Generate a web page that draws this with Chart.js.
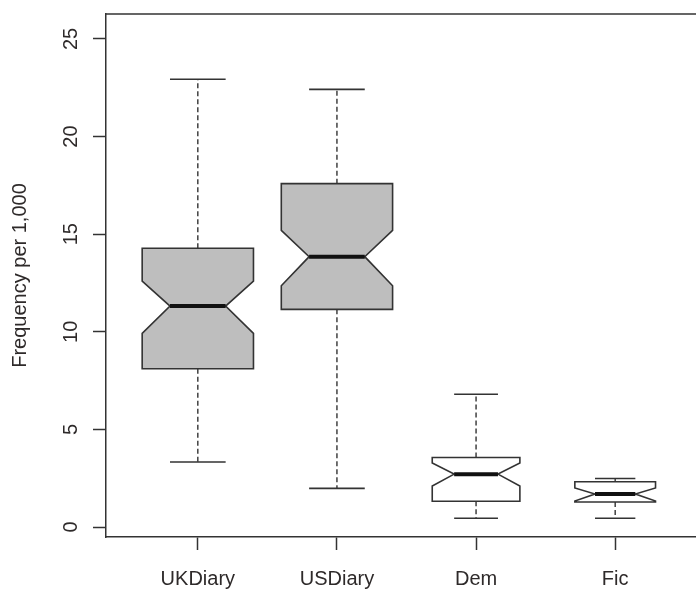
<!DOCTYPE html>
<html>
<head>
<meta charset="utf-8">
<script src="https://cdn.jsdelivr.net/npm/chart.js@4"></script>
<style>
  html, body { margin: 0; padding: 0; background: #fff; overflow: hidden; }
  canvas { display: block; }
</style>
</head>
<body>
<canvas id="canvas" width="720" height="589"></canvas>
<script>
// values
const categories = ["UKDiary", "USDiary", "Dem", "Fic"];
const upperWhisker = [22.94, 22.42, 6.80, 2.49];
const upperHinge = [14.28, 17.59, 3.56, 2.32];
const notchHigh = [12.60, 15.20, 3.28, 2.00];
const medians = [11.32, 13.85, 2.71, 1.69];
const notchLow = [9.92, 12.36, 2.10, 1.33];
const lowerHinge = [8.11, 11.15, 1.32, 1.28];
const lowerWhisker = [3.33, 1.98, 0.45, 0.45];
const boxWidths = [0.80, 0.80, 0.63, 0.58];
const yTicks = [0, 5, 10, 15, 20, 25];

const boxFills = ["#bebebe", "#bebebe", "#ffffff", "#ffffff"];
const ink = "#333333";
const textColor = "#2e2a2a";
const font = { family: "'Liberation Sans', Arial, sans-serif", size: 20 };

// draws notched boxes, whiskers and medians using the chart's scales
const notchedBoxes = {
  id: "notchedBoxes",
  afterDatasetsDraw(chart) {
    const { ctx, chartArea } = chart;
    const x = chart.scales.x;
    const y = chart.scales.y;

    ctx.save();
    // top/right frame (left and bottom come from the axis borders)
    ctx.strokeStyle = ink;
    ctx.lineWidth = 1.5;
    ctx.beginPath();
    ctx.moveTo(chartArea.left, chartArea.top);
    ctx.lineTo(chartArea.right, chartArea.top);
    ctx.lineTo(chartArea.right, chartArea.bottom);
    ctx.stroke();

    categories.forEach((cat, i) => {
      const c = i + 1;
      const hw = boxWidths[i] / 2;
      const px = (v) => x.getPixelForValue(v);
      const py = (v) => y.getPixelForValue(v);

      // whiskers
      ctx.strokeStyle = ink;
      ctx.lineWidth = 1.4;
      ctx.setLineDash([5, 3]);
      ctx.beginPath();
      ctx.moveTo(px(c), py(upperHinge[i]));
      ctx.lineTo(px(c), py(upperWhisker[i]));
      ctx.moveTo(px(c), py(lowerHinge[i]));
      ctx.lineTo(px(c), py(lowerWhisker[i]));
      ctx.stroke();
      ctx.setLineDash([]);

      // staples
      ctx.lineWidth = 1.6;
      ctx.beginPath();
      ctx.moveTo(px(c - hw / 2), py(upperWhisker[i]));
      ctx.lineTo(px(c + hw / 2), py(upperWhisker[i]));
      ctx.moveTo(px(c - hw / 2), py(lowerWhisker[i]));
      ctx.lineTo(px(c + hw / 2), py(lowerWhisker[i]));
      ctx.stroke();

      // notched box
      ctx.beginPath();
      ctx.moveTo(px(c - hw), py(upperHinge[i]));
      ctx.lineTo(px(c - hw), py(notchHigh[i]));
      ctx.lineTo(px(c - hw / 2), py(medians[i]));
      ctx.lineTo(px(c - hw), py(notchLow[i]));
      ctx.lineTo(px(c - hw), py(lowerHinge[i]));
      ctx.lineTo(px(c + hw), py(lowerHinge[i]));
      ctx.lineTo(px(c + hw), py(notchLow[i]));
      ctx.lineTo(px(c + hw / 2), py(medians[i]));
      ctx.lineTo(px(c + hw), py(notchHigh[i]));
      ctx.lineTo(px(c + hw), py(upperHinge[i]));
      ctx.closePath();
      ctx.fillStyle = boxFills[i];
      ctx.fill();
      ctx.lineWidth = 1.6;
      ctx.strokeStyle = ink;
      ctx.stroke();

      // median
      ctx.lineWidth = 4;
      ctx.strokeStyle = "#111";
      ctx.beginPath();
      ctx.moveTo(px(c - hw / 2), py(medians[i]));
      ctx.lineTo(px(c + hw / 2), py(medians[i]));
      ctx.stroke();
    });
    ctx.restore();
  }
};

new Chart(document.getElementById("canvas"), {
  type: "scatter",
  data: { datasets: [] },
  options: {
    responsive: false,
    animation: false,
    devicePixelRatio: 1,
    layout: { padding: { top: 14, right: 13, bottom: 0, left: 0 } },
    plugins: { legend: { display: false }, tooltip: { enabled: false } },
    scales: {
      x: {
        type: "linear",
        min: 0.34,
        max: 4.66,
        afterBuildTicks: (scale) => {
          scale.ticks = categories.map((c, i) => ({ value: i + 1 }));
        },
        afterFit: (scale) => {
          scale.height = 52;
          scale.paddingLeft = 0;
          scale.paddingRight = 0;
        },
        grid: {
          drawOnChartArea: false,
          drawTicks: true,
          tickLength: 13,
          tickColor: ink,
          tickWidth: 1.5
        },
        border: { display: true, color: ink, width: 1.5 },
        ticks: {
          autoSkip: false,
          maxRotation: 0,
          padding: 17,
          color: textColor,
          font: font,
          callback: (v) => categories[Math.round(v) - 1]
        }
      },
      y: {
        type: "linear",
        min: -0.51,
        max: 26.28,
        afterBuildTicks: (scale) => {
          scale.ticks = yTicks.map((v) => ({ value: v }));
        },
        afterFit: (scale) => {
          scale.width = 106;
          scale.paddingTop = 0;
          scale.paddingBottom = 0;
        },
        grid: {
          drawOnChartArea: false,
          drawTicks: true,
          tickLength: 13,
          tickColor: ink,
          tickWidth: 1.5
        },
        border: { display: true, color: ink, width: 1.5 },
        ticks: {
          minRotation: 90,
          maxRotation: 90,
          crossAlign: "center",
          padding: 10,
          color: textColor,
          font: font
        },
        title: {
          display: true,
          text: "Frequency per 1,000",
          color: textColor,
          font: font,
          padding: { top: 8, bottom: 0 }
        }
      }
    }
  },
  plugins: [notchedBoxes]
});
</script>
</body>
</html>
